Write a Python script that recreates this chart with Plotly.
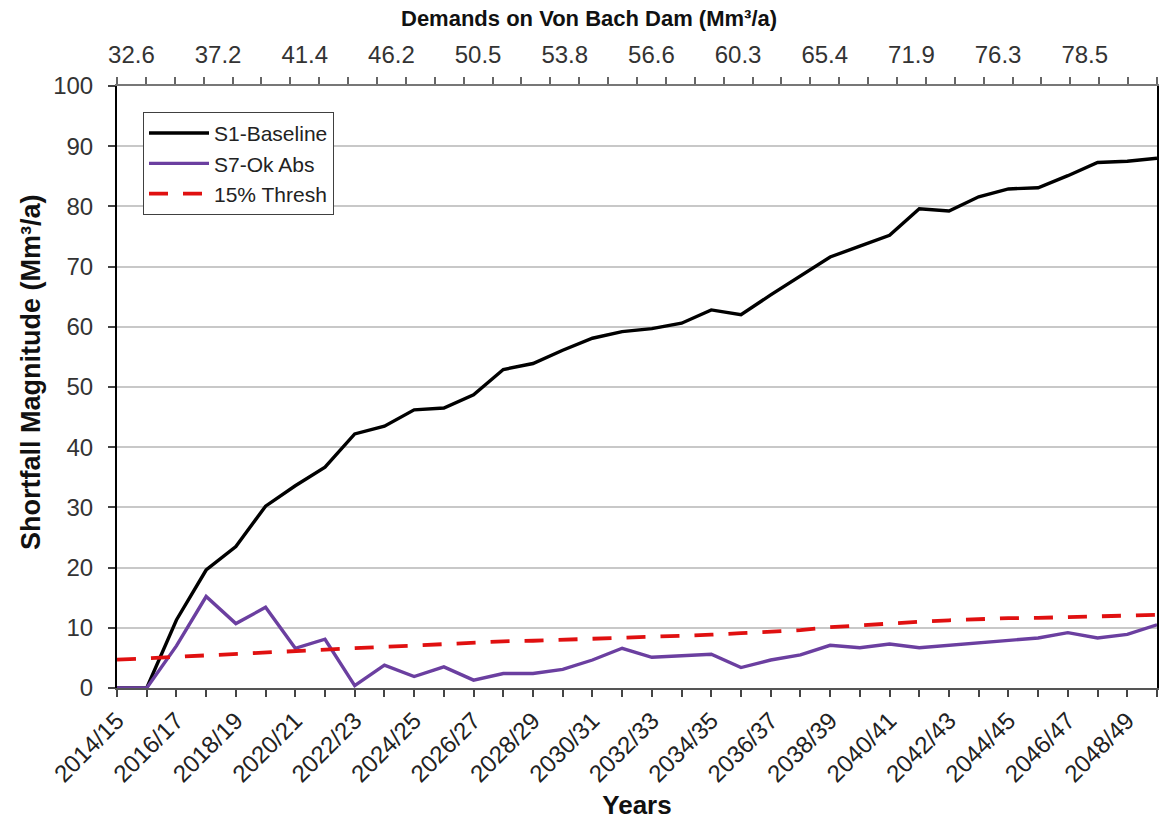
import plotly.graph_objects as go

years = [f"{y}/{(y + 1) % 100:02d}" for y in range(2014, 2050)]

s1_baseline = [0, 0, 11.3, 19.6, 23.5, 30.2, 33.6, 36.7, 42.2, 43.5,
               46.2, 46.5, 48.7, 52.9, 53.9, 56.1, 58.1, 59.2, 59.7, 60.6,
               62.8, 62.0, 65.3, 68.4, 71.6, 73.4, 75.2, 79.6, 79.25, 81.6,
               82.9, 83.1, 85.1, 87.3, 87.5, 88.0]

s7_ok_abs = [0, 0, 7.0, 15.2, 10.7, 13.4, 6.6, 8.1, 0.4, 3.8,
             1.9, 3.5, 1.3, 2.4, 2.4, 3.1, 4.65, 6.6, 5.1, 5.4,
             5.6, 3.4, 4.65, 5.5, 7.1, 6.7, 7.3, 6.7, 7.1, 7.6,
             8.0, 8.3, 9.2, 8.3, 8.9, 10.5]

thresh_15 = [4.7, 4.95, 5.2, 5.45, 5.65, 5.85, 6.1, 6.35, 6.6, 6.85,
             7.05, 7.3, 7.55, 7.75, 7.85, 8.0, 8.2, 8.35, 8.5, 8.6,
             8.85, 9.1, 9.3, 9.6, 10.1, 10.45, 10.7, 11.0, 11.25, 11.45,
             11.6, 11.65, 11.75, 11.95, 12.05, 12.15]

demand_labels = ["32.6", "37.2", "41.4", "46.2", "50.5", "53.8",
                 "56.6", "60.3", "65.4", "71.9", "76.3", "78.5"]
demand_label_pos = [0, 3, 6, 9, 12, 15, 18, 21, 24, 27, 30, 33]

FONT = "Liberation Sans, Arial, sans-serif"

fig = go.Figure()
fig.add_trace(go.Scatter(x=years, y=s1_baseline, name="S1-Baseline", mode="lines",
                         line=dict(color="#000000", width=3.4)))
fig.add_trace(go.Scatter(x=years, y=s7_ok_abs, name="S7-Ok Abs", mode="lines",
                         line=dict(color="#6B3FA0", width=3.4)))
fig.add_trace(go.Scatter(x=years, y=thresh_15, name="15% Thresh", mode="lines",
                         line=dict(color="#E01010", width=3.8, dash="19px,15px")))
# dummy trace to activate the top axis
fig.add_trace(go.Scatter(x=[0], y=[None], xaxis="x2", showlegend=False,
                         hoverinfo="skip", mode="lines"))

fig.update_layout(
    width=1161, height=826,
    margin=dict(l=117, r=4, t=86, b=138, autoexpand=False),
    paper_bgcolor="white", plot_bgcolor="white",
    font=dict(family=FONT, color="#333333"),
    showlegend=True,
    legend=dict(x=0.025, y=0.957, xanchor="left", yanchor="top",
                bgcolor="white", bordercolor="#404040", borderwidth=1,
                font=dict(size=21, color="#222222", family=FONT),
                tracegroupgap=0, itemwidth=60),
    xaxis=dict(type="category", range=[0, 35], automargin=False,
               tickmode="array", tickvals=years,
               ticktext=[y if i % 2 == 0 else "" for i, y in enumerate(years)],
               tickangle=-45, tickfont=dict(size=24, color="#222222"),
               ticks="outside", ticklen=7, tickwidth=1.5, tickcolor="#444444",
               showline=True, linecolor="#555555", linewidth=2,
               showgrid=False, zeroline=False,
               title=dict(text="<b>Years</b>", font=dict(size=26, color="#111111", family=FONT),
                          standoff=10)),
    xaxis2=dict(overlaying="x", side="top", range=[-0.5, 35.5], automargin=False,
                tickmode="array", tickvals=demand_label_pos, ticktext=demand_labels,
                ticks="", tickfont=dict(size=24, color="#333333"),
                ticklabelstandoff=12,
                minor=dict(ticks="outside", ticklen=7, tickwidth=1.5, tickcolor="#666666",
                           tick0=-0.5, dtick=1, showgrid=False),
                showline=True, linecolor="#777777", linewidth=1.5,
                showgrid=False, zeroline=False),
    yaxis=dict(range=[0, 100], dtick=10, tick0=0, automargin=False,
               tickfont=dict(size=24, color="#333333"),
               ticks="outside", ticklen=7, tickwidth=1.5, tickcolor="#444444",
               ticklabelstandoff=10,
               showline=True, linecolor="#000000", linewidth=2, mirror=True,
               showgrid=True, gridcolor="#C8C8C8", gridwidth=1.5,
               zeroline=False),
)

fig.add_annotation(text="<b>Shortfall Magnitude (Mm³/a)</b>",
                   xref="paper", yref="paper", x=-0.0827, y=0.525, textangle=-90,
                   xanchor="center", yanchor="middle", showarrow=False,
                   font=dict(size=27, color="#111111", family=FONT))

fig.add_annotation(text="<b>Demands on Von Bach Dam (Mm³/a)</b>",
                   xref="paper", yref="paper", x=0.454, y=1.0, yshift=68,
                   xanchor="center", yanchor="middle", showarrow=False,
                   font=dict(size=22, color="#111111", family=FONT))

fig.write_html("out.html", config={"displayModeBar": False},
               post_script="document.body.style.margin='0';document.body.style.overflow='hidden';")
